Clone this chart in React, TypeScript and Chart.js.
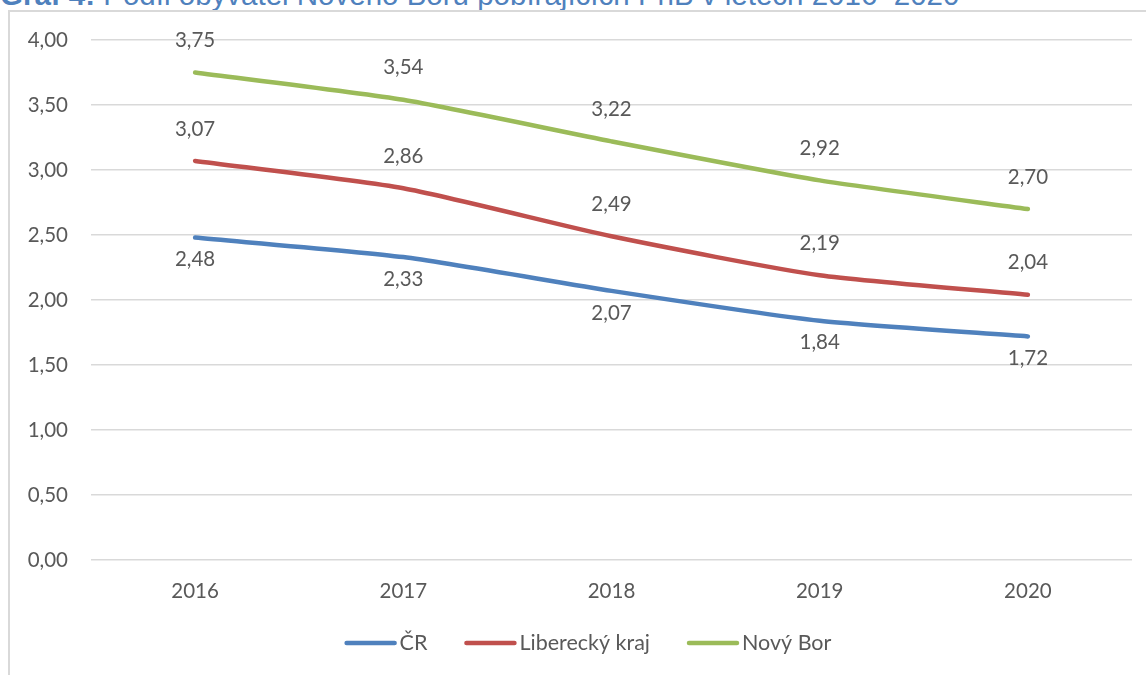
import React, { useEffect, useRef } from "react";
import { Chart, registerables } from "chart.js";

Chart.register(...registerables);

const years = ["2016", "2017", "2018", "2019", "2020"];
const crValues = [2.48, 2.33, 2.07, 1.84, 1.72];
const libereckyValues = [3.07, 2.86, 2.49, 2.19, 2.04];
const novyBorValues = [3.75, 3.54, 3.22, 2.92, 2.7];
const seriesNames = ["ČR", "Liberecký kraj", "Nový Bor"];
const seriesColors = ["#4f81bd", "#c0504d", "#9bbb59"];
const labelSides = ["below", "above", "above"];
const titleBold = "Graf 4:";
const titleRest = " Podíl obyvatel Nového Boru pobírajících PnB v letech 2016–2020";

const TEXT = "#595959";
const FONT = "Lato";
const FS = 20.5;
const LEGEND_FS = 21.5;

const fmt = (v: number) => v.toFixed(2).replace(".", ",");

const dataLabelPlugin = {
  id: "dataLabels",
  afterDatasetsDraw(chart: any) {
    const ctx = chart.ctx;
    ctx.save();
    ctx.font = `${FS}px ${FONT}`;
    ctx.fillStyle = TEXT;
    ctx.textAlign = "center";
    ctx.textBaseline = "middle";
    chart.data.datasets.forEach((ds: any, i: number) => {
      const meta = chart.getDatasetMeta(i);
      meta.data.forEach((pt: any, j: number) => {
        const dy = labelSides[i] === "above" ? -32 : 22;
        ctx.fillText(fmt(ds.data[j]), pt.x, pt.y + dy);
      });
    });
    ctx.restore();
  },
};

const legendPlugin = {
  id: "customLegend",
  afterDraw(chart: any) {
    const ctx = chart.ctx;
    ctx.save();
    ctx.font = `${LEGEND_FS}px ${FONT}`;
    const lineW = 52;
    const gap = 3;
    const spacing = 37;
    const items = chart.data.datasets.map((ds: any) => ({
      label: ds.label,
      color: ds.borderColor,
      w: lineW + gap + ctx.measureText(ds.label).width,
    }));
    const total = items.reduce((a: number, it: any) => a + it.w, 0) + spacing * (items.length - 1);
    let x = 588 - total / 2;
    const y = 643;
    items.forEach((it: any) => {
      ctx.strokeStyle = it.color;
      ctx.lineWidth = 4.5;
      ctx.lineCap = "round";
      ctx.beginPath();
      ctx.moveTo(x + 2, y);
      ctx.lineTo(x + lineW - 2, y);
      ctx.stroke();
      ctx.fillStyle = TEXT;
      ctx.textAlign = "left";
      ctx.textBaseline = "middle";
      ctx.fillText(it.label, x + lineW + gap, y);
      x += it.w + spacing;
    });
    ctx.restore();
  },
};

export default function App() {
  const ref = useRef<HTMLCanvasElement>(null);
  useEffect(() => {
    if (!ref.current) return;
    const values = [crValues, libereckyValues, novyBorValues];
    const chart = new Chart(ref.current, {
      type: "line",
      data: {
        labels: years,
        datasets: values.map((v, i) => ({
          label: seriesNames[i],
          data: v,
          borderColor: seriesColors[i],
          backgroundColor: seriesColors[i],
          borderWidth: 4.5,
          borderCapStyle: "round",
          borderJoinStyle: "round",
          pointRadius: 0,
          tension: 0.2,
          fill: false,
        })),
      },
      options: {
        responsive: false,
        animation: false,
        layout: { padding: { left: 0, right: 14, top: 40, bottom: 55 } },
        plugins: {
          legend: { display: false },
          tooltip: { enabled: false },
          title: { display: false },
        },
        scales: {
          x: {
            offset: true,
            grid: { display: false, drawTicks: false },
            border: { display: false },
            ticks: {
              color: TEXT,
              font: { family: FONT, size: FS },
              padding: 19,
              maxRotation: 0,
            },
            afterFit: (s: any) => {
              s.height = 60;
            },
          },
          y: {
            min: 0,
            max: 4,
            grid: { color: "#d9d9d9", lineWidth: 1.5, drawTicks: false },
            border: { display: false },
            ticks: {
              stepSize: 0.5,
              color: TEXT,
              font: { family: FONT, size: FS },
              padding: 23,
              callback: (v: any) => fmt(Number(v)),
            },
            afterFit: (s: any) => {
              s.width = 91;
            },
          },
        },
      },
      plugins: [dataLabelPlugin, legendPlugin],
    } as any);
    return () => chart.destroy();
  }, []);

  return (
    <div style={{ position: "fixed", left: 0, top: 0, width: 1146, height: 675, overflow: "hidden", background: "#fff" }}>
      <div
        style={{
          position: "absolute",
          left: 0,
          top: -20,
          fontFamily: "'Liberation Sans', Arial, sans-serif",
          fontSize: 29.5,
          lineHeight: "29.5px",
          color: "#4f81bd",
          whiteSpace: "nowrap",
        }}
      >
        <b>{titleBold}</b>
        {titleRest}
      </div>
      <div
        style={{
          position: "absolute",
          left: 8,
          top: 10,
          width: 1300,
          height: 800,
          border: "2px solid #d9d9d9",
          boxSizing: "border-box",
        }}
      />
      <canvas ref={ref} width={1146} height={675} style={{ position: "absolute", left: 0, top: 0 }} />
    </div>
  );
}
